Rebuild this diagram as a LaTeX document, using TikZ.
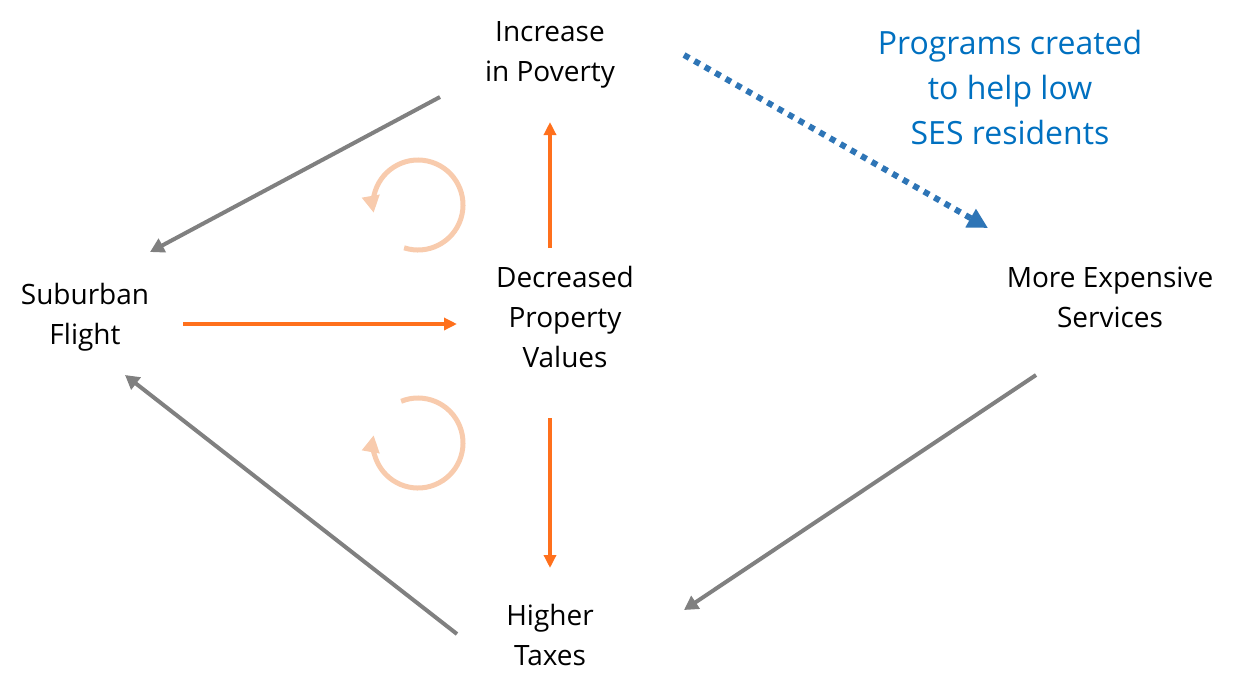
\documentclass[tikz,border=0pt]{standalone}
\usepackage{fontspec}
\setmainfont{Open Sans}
\usetikzlibrary{arrows.meta,calc}
\definecolor{grayarr}{RGB}{128,128,128}
\definecolor{orangearr}{RGB}{255,112,28}
\definecolor{lightor}{RGB}{248,203,173}
\definecolor{bluearr}{RGB}{46,117,182}
\definecolor{bluetxt}{RGB}{0,112,192}
\tikzset{
  lbl/.style={align=center, font=\fontsize{28}{40}\selectfont, inner sep=0pt},
  bluelbl/.style={align=center, font=\fontsize{32}{45}\selectfont, inner sep=0pt, text=bluetxt},
  grayline/.style={draw=grayarr, line width=4pt, -{Triangle[length=14pt,width=15pt]}},
  orline/.style={draw=orangearr, line width=4pt, -{Triangle[length=13pt,width=12pt]}},
  cycarr/.style={draw=lightor, line width=5pt, -{Triangle[length=17pt,width=17pt]}},
  dotline/.style={draw=bluearr, line width=6pt, dash pattern=on 6pt off 6pt, -{Triangle[length=20pt,width=20pt]}}
}
\begin{document}
\begin{tikzpicture}[x=1pt,y=-1pt]
\useasboundingbox (0,0) rectangle (1237,694);
\node[lbl] (pov) at (550,55) {Increase\\in Poverty};
\node[bluelbl] (prog) at (1010,87) {Programs created\\to help low\\SES residents};
\node[lbl] (sub) at (85,317) {Suburban\\Flight};
\node[lbl] (dec) at (565,317) {Decreased\\Property\\Values};
\node[lbl] (serv) at (1110,297) {More Expensive\\Services};
\node[lbl] (tax) at (550,635) {Higher\\Taxes};
\coordinate (a1s) at (440,97); \coordinate (a1e) at (150,252);
\coordinate (a2s) at (457,634); \coordinate (a2e) at (125,375);
\coordinate (a3s) at (1036,375); \coordinate (a3e) at (684,610);
\coordinate (o1s) at (183,324); \coordinate (o1e) at (457,324);
\coordinate (o2s) at (550,248); \coordinate (o2e) at (550,122);
\coordinate (o3s) at (550,418); \coordinate (o3e) at (550,568);
\coordinate (bs) at (684,55); \coordinate (be) at (988,228);
\draw[grayline] (a1s) -- (a1e);
\draw[grayline] (a2s) -- (a2e);
\draw[grayline] (a3s) -- (a3e);
\draw[orline] (o1s) -- (o1e);
\draw[orline] (o2s) -- (o2e);
\draw[orline] (o3s) -- (o3e);
\draw[dotline] (bs) -- (be);
\coordinate (c1) at (418,205);
\coordinate (c2) at (418,443);
\draw[cycarr] ($(c1)+(108:45)$) arc[start angle=108, end angle=-190, radius=45];
\draw[cycarr] ($(c2)+(-112:45)$) arc[start angle=-112, end angle=190, radius=45];
\end{tikzpicture}
\end{document}
